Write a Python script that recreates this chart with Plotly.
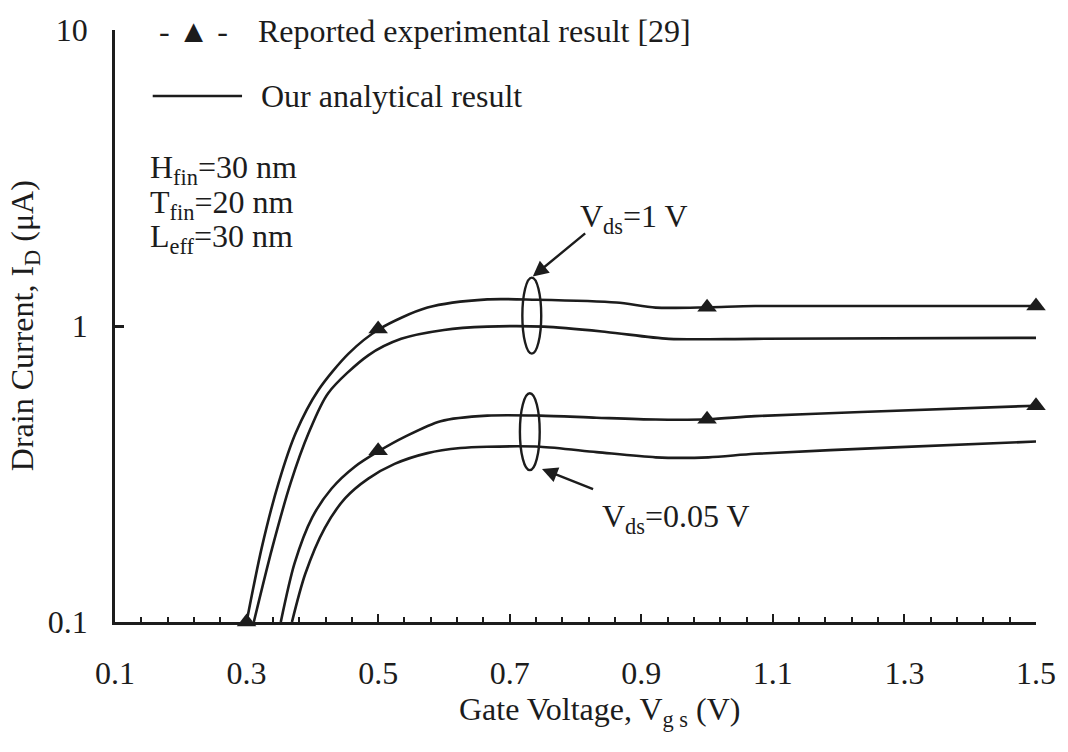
import math
import plotly.graph_objects as go

# ---------------- data ----------------
# Vds = 1 V, reported experimental result (smooth curve through markers)
vgs_exp_1 = [0.300, 0.323, 0.349, 0.375, 0.409, 0.455, 0.502, 0.575, 0.666, 0.741,
             0.862, 0.922, 1.002, 1.073, 1.500]
id_exp_1 = [0.100, 0.178, 0.297, 0.437, 0.607, 0.807, 0.977, 1.154, 1.230, 1.226,
            1.200, 1.154, 1.157, 1.169, 1.169]
vgs_exp_1_pts = [0.30, 0.50, 1.00, 1.50]
id_exp_1_pts = [0.100, 0.977, 1.157, 1.169]

# Vds = 1 V, analytical result
vgs_ana_1 = [0.311, 0.339, 0.367, 0.394, 0.424, 0.485, 0.535, 0.600, 0.666, 0.752,
             0.847, 0.942, 1.073, 1.500]
id_ana_1 = [0.100, 0.178, 0.295, 0.433, 0.593, 0.796, 0.905, 0.970, 0.995, 0.995,
            0.955, 0.905, 0.905, 0.912]

# Vds = 0.05 V, reported experimental result
vgs_exp_005 = [0.352, 0.373, 0.400, 0.429, 0.464, 0.502, 0.541, 0.595, 0.666, 0.746,
               0.832, 0.922, 1.002, 1.073, 1.234, 1.500]
id_exp_005 = [0.100, 0.158, 0.226, 0.282, 0.334, 0.379, 0.423, 0.477, 0.498, 0.498,
              0.490, 0.483, 0.484, 0.496, 0.512, 0.538]
vgs_exp_005_pts = [0.50, 1.00, 1.50]
id_exp_005_pts = [0.379, 0.484, 0.538]

# Vds = 0.05 V, analytical result
vgs_ana_005 = [0.369, 0.389, 0.419, 0.450, 0.485, 0.525, 0.575, 0.625, 0.666, 0.746,
               0.832, 0.922, 1.002, 1.073, 1.284, 1.500]
id_ana_005 = [0.100, 0.145, 0.208, 0.262, 0.305, 0.342, 0.372, 0.387, 0.391, 0.391,
              0.375, 0.360, 0.360, 0.370, 0.389, 0.407]

x_tick_vals = [0.1, 0.3, 0.5, 0.7, 0.9, 1.1, 1.3, 1.5]
x_tick_text = ["0.1", "0.3", "0.5", "0.7", "0.9", "1.1", "1.3", "1.5"]
x_minor_vals = [round(0.1 + 0.04 * i, 2) for i in range(36) if i % 5 != 0]
y_tick_vals = [0.1, 1, 10]
y_tick_text = ["0.1", "1", "10"]

# ---------------- styling ----------------
INK = "#1c1c1c"
FONT = "Liberation Serif"
FS = 32
W, H = 1068, 752
L, R, T, B = 115, 25, 21, 130
PW, PH = W - L - R, H - T - B


def px(xp):
    return (xp - L) / PW


def py(yp):
    return (H - B - yp) / PH


fig = go.Figure()

line_style = dict(color=INK, width=2.6, shape="spline", smoothing=0.8)
for xs, ys, nm in [(vgs_exp_1, id_exp_1, "Reported, Vds=1 V"),
                   (vgs_ana_1, id_ana_1, "Analytical, Vds=1 V"),
                   (vgs_exp_005, id_exp_005, "Reported, Vds=0.05 V"),
                   (vgs_ana_005, id_ana_005, "Analytical, Vds=0.05 V")]:
    fig.add_trace(go.Scatter(x=xs, y=ys, mode="lines", line=line_style,
                             name=nm, showlegend=False, cliponaxis=False))

for xs, ys in [(vgs_exp_1_pts, id_exp_1_pts), (vgs_exp_005_pts, id_exp_005_pts)]:
    fig.add_trace(go.Scatter(x=xs, y=ys, mode="markers",
                             marker=dict(symbol="triangle-up", size=17, color=INK),
                             showlegend=False, cliponaxis=False))

fig.update_layout(
    width=W, height=H,
    margin=dict(l=L, r=R, t=T, b=B),
    paper_bgcolor="white", plot_bgcolor="white",
    font=dict(family=FONT, size=FS, color=INK),
    showlegend=False,
    xaxis=dict(range=[0.1, 1.5], tickmode="array", tickvals=x_tick_vals,
               ticktext=x_tick_text, ticks="inside", ticklen=8, tickwidth=2,
               tickcolor=INK, showline=True, linewidth=3, linecolor=INK,
               showgrid=False, zeroline=False, ticklabelstandoff=21,
               tickfont=dict(family=FONT, size=FS, color=INK),
               minor=dict(tickmode="array", tickvals=x_minor_vals, ticks="inside",
                          ticklen=5, tickwidth=2, tickcolor=INK, showgrid=False)),
    yaxis=dict(type="log", range=[-1, 1], tickmode="array", tickvals=y_tick_vals,
               ticktext=y_tick_text, ticks="inside", ticklen=9, tickwidth=2.5,
               tickcolor=INK, showline=True, linewidth=2.6, linecolor=INK,
               showgrid=False, zeroline=False, ticklabelstandoff=18,
               tickfont=dict(family=FONT, size=FS, color=INK)),
)

ann = []
# axis titles
ann.append(dict(text="Gate Voltage, V<sub>g s</sub> (V)", xref="paper", yref="paper",
                x=px(603), y=py(713), xanchor="center", yanchor="middle",
                showarrow=False))
ann.append(dict(text="Drain Current, I<sub>D</sub> (\u03bcA)", xref="paper", yref="paper",
                x=px(24), y=py(321), xanchor="center", yanchor="middle",
                textangle=-90, showarrow=False))
# legend
ann.append(dict(text="- \u25b2 -", xref="paper", yref="paper", x=px(194), y=py(22),
                xanchor="center", yanchor="middle", showarrow=False))
ann.append(dict(text="Reported experimental result [29]", xref="paper", yref="paper",
                x=px(257), y=py(22), xanchor="left", yanchor="middle", showarrow=False))
ann.append(dict(text="Our analytical result", xref="paper", yref="paper",
                x=px(260), y=py(88), xanchor="left", yanchor="middle", showarrow=False))
# parameters
for txt, yy in [("H<sub>fin</sub>=30 nm", 163), ("T<sub>fin</sub>=20 nm", 198),
                ("L<sub>eff</sub>=30 nm", 233)]:
    ann.append(dict(text=txt, xref="paper", yref="paper", x=px(148), y=py(yy),
                    xanchor="left", yanchor="middle", showarrow=False))
# Vds labels
ann.append(dict(text="V<sub>ds</sub>=1 V", xref="paper", yref="paper", x=px(638), y=py(212),
                xanchor="center", yanchor="middle", showarrow=False))
ann.append(dict(text="V<sub>ds</sub>=0.05 V", xref="paper", yref="paper", x=px(680), y=py(517),
                xanchor="center", yanchor="middle", showarrow=False))
# arrows (y given as log10 on a log axis)
ann.append(dict(text="", x=0.735, y=0.167, ax=0.817, ay=0.317, xref="x", yref="y",
                axref="x", ayref="y", showarrow=True, arrowhead=2, arrowsize=1.3,
                arrowwidth=2.4, arrowcolor=INK))
ann.append(dict(text="", x=0.749, y=-0.483, ax=0.829, ay=-0.553, xref="x", yref="y",
                axref="x", ayref="y", showarrow=True, arrowhead=2, arrowsize=1.3,
                arrowwidth=2.4, arrowcolor=INK))
fig.update_layout(annotations=ann)

shapes = [
    dict(type="line", xref="paper", yref="paper", x0=px(153), x1=px(243),
         y0=py(88), y1=py(88), line=dict(color=INK, width=2.4)),
    dict(type="circle", xref="x", yref="y", x0=0.7192, x1=0.7479, y0=0.8064, y1=1.457,
         line=dict(color=INK, width=2.4)),
    dict(type="circle", xref="x", yref="y", x0=0.7155, x1=0.7456, y0=0.326, y1=0.593,
         line=dict(color=INK, width=2.4)),
]
fig.update_layout(shapes=shapes)

fig.write_html("out.html")
